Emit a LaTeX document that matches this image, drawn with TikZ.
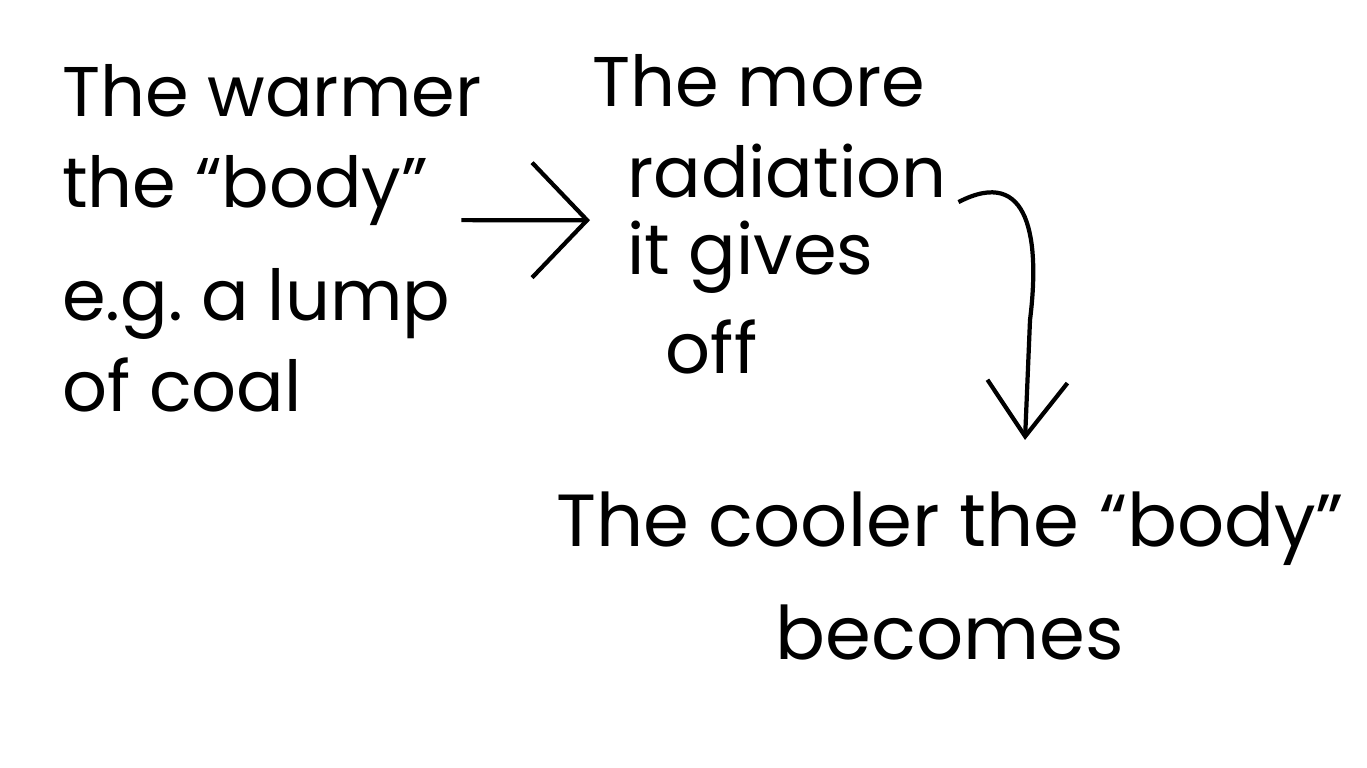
\documentclass[tikz,border=0pt]{standalone}
\usepackage{fontspec}
\setmainfont{Poppins}
\usetikzlibrary{arrows.meta}
\begin{document}
\begin{tikzpicture}[x=0.01cm,y=-0.01cm,line width=1.2pt,
  note/.style={inner sep=0pt,font=\fontsize{20}{26}\selectfont,align=left},
  hand/.style={-{Straight Barb[length=5.5mm,width=11.5mm,line width=1.2pt]}}]
\useasboundingbox (0,0) rectangle (1367,768);
\node[note,anchor=north west] (warm) at (60,62) {The warmer\\the ``body''\\[6pt]e.g.\ a lump\\of coal};
\node[note,anchor=north west] (more) at (590,52) {The more\\\hspace*{10pt}radiation\\[-4pt]\hspace*{10pt}it gives\\[2pt]\hspace*{21pt}off};
\node[note,font=\fontsize{21}{28}\selectfont,align=center,anchor=north] (cool) at (950,490) {The cooler the ``body''\\[4pt]becomes};
\coordinate (tip) at (1025,440);
\draw[hand] ([shift={(-22,-18)}]warm.east) -- ([yshift=5.1pt]warm.east -| more.west);
\draw[-{Straight Barb[length=5.5mm,width=8mm,line width=1.2pt]}] ([shift={(10,-12)}]more.east) .. controls (1030,165) and (1040,240) .. (1030,320) -- (tip);
\end{tikzpicture}
\end{document}
